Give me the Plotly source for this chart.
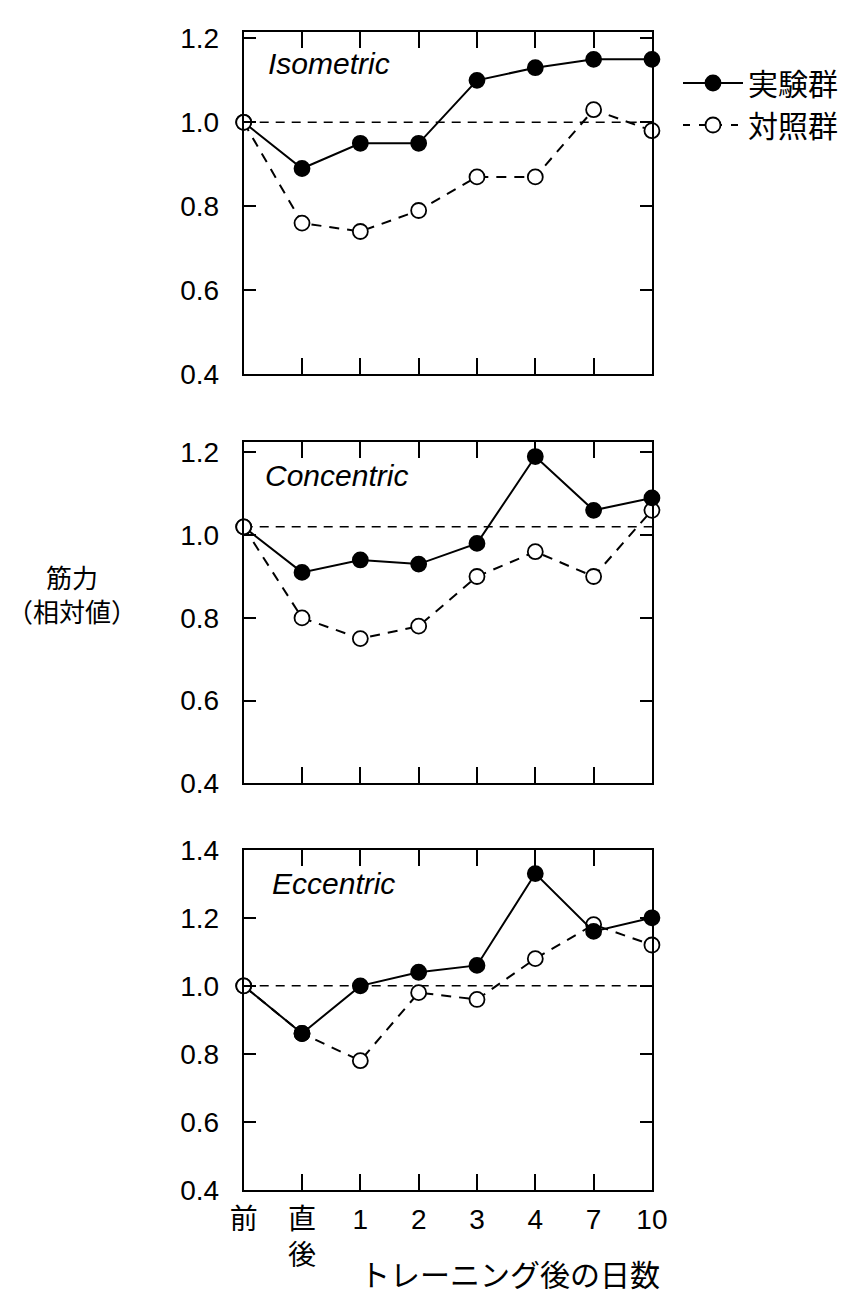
import plotly.graph_objects as go

# Days after training (x categories)
days = ["前", "直<br>後", "1", "2", "3", "4", "7", "10"]

# Relative muscle strength, experimental group (filled) and control group (open)
iso_exp = [1.00, 0.89, 0.95, 0.95, 1.10, 1.13, 1.15, 1.15]
iso_ctl = [1.00, 0.76, 0.74, 0.79, 0.87, 0.87, 1.03, 0.98]
con_exp = [1.02, 0.91, 0.94, 0.93, 0.98, 1.19, 1.06, 1.09]
con_ctl = [1.02, 0.80, 0.75, 0.78, 0.90, 0.96, 0.90, 1.06]
ecc_exp = [1.00, 0.86, 1.00, 1.04, 1.06, 1.33, 1.16, 1.20]
ecc_ctl = [1.00, 0.86, 0.78, 0.98, 0.96, 1.08, 1.18, 1.12]

panel_names = ["Isometric", "Concentric", "Eccentric"]
baselines = [1.00, 1.02, 1.00]
y_ticks = [[0.4, 0.6, 0.8, 1.0, 1.2], [0.4, 0.6, 0.8, 1.0, 1.2], [0.4, 0.6, 0.8, 1.0, 1.2, 1.4]]
y_ranges = [[0.4, 1.216], [0.4, 1.226], [0.4, 1.40]]
legend_names = ["実験群", "対照群"]

W, H = 860, 1309
X_DOM = [238 / W, 661 / W]
Y_DOMS = [
    [1 - 368 / H, 1 - 17 / H],
    [1 - 787 / H, 1 - 437 / H],
    [1 - 1203.5 / H, 1 - 855 / H],
]

LAT = "Liberation Sans, Arial, Noto Sans CJK JP, sans-serif"
CJK = "Noto Sans CJK JP, sans-serif"

fig = go.Figure()
xs = list(range(len(days)))
series = [(iso_exp, iso_ctl), (con_exp, con_ctl), (ecc_exp, ecc_ctl)]

for i, (exp_vals, ctl_vals) in enumerate(series):
    ax = "" if i == 0 else str(i + 1)
    # control group: dashed line, open circles
    fig.add_trace(go.Scatter(
        x=xs, y=ctl_vals, xaxis="x" + ax, yaxis="y" + ax,
        mode="lines+markers", showlegend=False, cliponaxis=False,
        line=dict(color="black", width=2, dash="10px,8px"),
        marker=dict(symbol="circle", size=15, color="white",
                    line=dict(color="black", width=1.8)),
    ))
    # experimental group: solid line, filled circles (shared pre value shown open)
    fig.add_trace(go.Scatter(
        x=xs, y=exp_vals, xaxis="x" + ax, yaxis="y" + ax,
        mode="lines+markers", showlegend=False, cliponaxis=False,
        line=dict(color="black", width=2),
        marker=dict(symbol="circle", size=15,
                    color=["white" if k == 0 else "black" for k in xs],
                    line=dict(color="black", width=1.8)),
    ))
    # dashed reference line
    fig.add_shape(type="line", xref="x" + ax + " domain", yref="y" + ax,
                  x0=0, x1=1, y0=baselines[i], y1=baselines[i], layer="below",
                  line=dict(color="black", width=1.5, dash="9px,7px"))
    # panel label
    fig.add_annotation(xref="x" + ax + " domain", yref="y" + ax + " domain",
                       x=[0.055, 0.047, 0.064][i], y=[0.906, 0.90, 0.90][i],
                       xanchor="left", yanchor="middle", showarrow=False,
                       text="<i>" + panel_names[i] + "</i>",
                       font=dict(family=LAT, size=30, color="black"))

    axis_common = dict(showline=True, linecolor="black", linewidth=2, mirror="ticks",
                       showgrid=False, zeroline=False, ticks="inside",
                       tickcolor="black", tickwidth=2)
    fig.update_layout({
        "xaxis" + ax: dict(axis_common, domain=X_DOM, range=[0, 7],
                           tickvals=xs, ticktext=days, ticklen=16,
                           showticklabels=(i == 2), anchor="y" + ax,
                           ticklabelstandoff=3,
                           tickfont=dict(family=LAT, size=28, color="black")),
        "yaxis" + ax: dict(axis_common, domain=Y_DOMS[i], range=y_ranges[i],
                           tickvals=y_ticks[i],
                           ticktext=[f"{v:.1f}" for v in y_ticks[i]],
                           ticklen=12, anchor="x" + ax, ticklabelstandoff=17,
                           tickfont=dict(family=LAT, size=28, color="black")),
    })

# legend entries
fig.add_trace(go.Scatter(x=[None], y=[None], name=legend_names[0], mode="lines+markers",
                         line=dict(color="black", width=2),
                         marker=dict(size=15, color="black", line=dict(color="black", width=1.8))))
fig.add_trace(go.Scatter(x=[None], y=[None], name=legend_names[1], mode="lines+markers",
                         line=dict(color="black", width=2, dash="7px,9px"),
                         marker=dict(size=15, color="white", line=dict(color="black", width=1.8))))

# axis titles
fig.add_annotation(xref="paper", yref="paper", x=60 / W, y=1 - 593 / H,
                   xanchor="center", yanchor="middle", align="center", showarrow=False,
                   text="筋力<br>（相対値）", font=dict(family=CJK, size=26, color="black"))
fig.add_annotation(xref="paper", yref="paper", x=514 / W, y=1 - 1289 / H,
                   xanchor="center", yanchor="middle", showarrow=False,
                   text="トレーニング後の日数", font=dict(family=CJK, size=30, color="black"))

fig.update_layout(
    width=W, height=H,
    margin=dict(l=0, r=0, t=0, b=0),
    paper_bgcolor="white", plot_bgcolor="white",
    showlegend=True,
    legend=dict(x=688 / W, y=1 - 43 / H, xanchor="left", yanchor="top",
                bgcolor="rgba(0,0,0,0)", borderwidth=0,
                font=dict(family=CJK, size=30, color="black"),
                itemwidth=60, tracegroupgap=0),
)

fig.write_html("out.html")
